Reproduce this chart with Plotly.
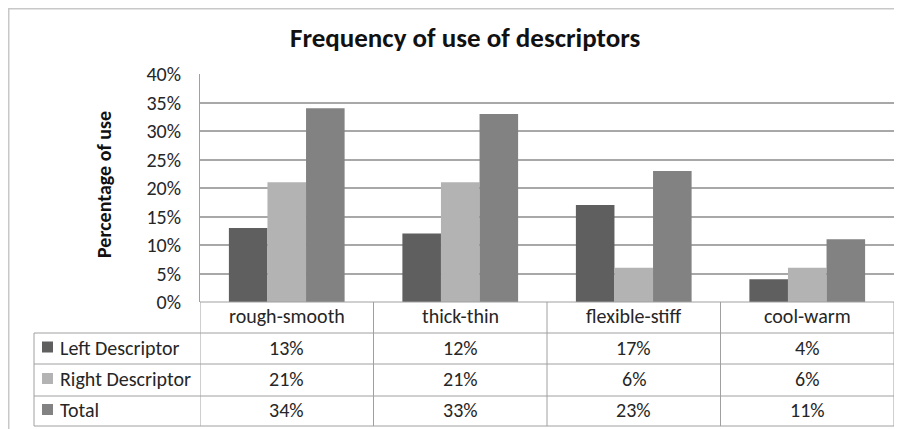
import plotly.graph_objects as go

categories = ["rough-smooth", "thick-thin", "flexible-stiff", "cool-warm"]
series_names = ["Left Descriptor", "Right Descriptor", "Total"]
left_values = [0.13, 0.12, 0.17, 0.04]
right_values = [0.21, 0.21, 0.06, 0.06]
total_values = [0.34, 0.33, 0.23, 0.11]
series_colors = ["#5f5f5f", "#b3b3b3", "#828282"]
y_ticks = [0, 0.05, 0.10, 0.15, 0.20, 0.25, 0.30, 0.35, 0.40]

W, H = 902, 429
OFF = 8  # page body margin offset
FONT = "Carlito, Lato, Liberation Sans, Arial, sans-serif"
TXT = "#262626"


def px(x):
    return (x - OFF) / W


def py(y):
    return 1 - (y - OFF) / H


series_values = [left_values, right_values, total_values]

fig = go.Figure()
for name, vals, col in zip(series_names, series_values, series_colors):
    fig.add_trace(go.Bar(x=categories, y=vals, name=name, marker_color=col,
                         marker_line_width=0, showlegend=False))

fig.update_layout(
    width=W, height=H, autosize=False,
    margin=dict(l=0, r=0, t=0, b=0, autoexpand=False),
    paper_bgcolor="white", plot_bgcolor="white",
    barmode="group", bargap=0.333, bargroupgap=0,
    font=dict(family=FONT, color=TXT),
    xaxis=dict(domain=[px(200), px(894)], type="category", range=[-0.5, 3.5],
               showticklabels=False, showgrid=False, zeroline=False,
               showline=False, ticks="", automargin=False),
    yaxis=dict(domain=[py(302), py(74)], range=[0, 0.40], tickvals=y_ticks,
               tickformat=".0%", showgrid=True, gridcolor="#a8a8a8",
               gridwidth=1.5, zeroline=False, showline=True,
               linecolor="#a0a0a0", linewidth=1, ticks="", automargin=False,
               tickfont=dict(size=20, family=FONT, color=TXT),
               ticklabelstandoff=14),
)

shapes = []
line_col = "#a0a0a0"
# outer chart frame (top and left edges visible)
shapes.append(dict(type="line", xref="paper", yref="paper",
                   x0=px(8), x1=1, y0=py(8.5), y1=py(8.5),
                   line=dict(color="#c8c8c8", width=2)))
shapes.append(dict(type="line", xref="paper", yref="paper",
                   x0=px(8.5), x1=px(8.5), y0=0, y1=py(8),
                   line=dict(color="#c8c8c8", width=2)))
# table horizontal lines
row_lines = [302, 333, 364, 396, 426]
for i, yy in enumerate(row_lines):
    shapes.append(dict(type="line", xref="paper", yref="paper",
                       x0=px(200) if i == 0 else px(34), x1=px(894),
                       y0=py(yy), y1=py(yy), line=dict(color=line_col, width=1)))
# table vertical lines at category boundaries
for k in range(len(categories) + 1):
    shapes.append(dict(type="line", xref="x", yref="paper",
                       x0=k - 0.5, x1=k - 0.5, y0=py(302), y1=py(426),
                       line=dict(color=line_col, width=1)))
shapes.append(dict(type="line", xref="paper", yref="paper",
                   x0=px(34), x1=px(34), y0=py(333), y1=py(426),
                   line=dict(color=line_col, width=1)))

annotations = []
annotations.append(dict(text="<b>Frequency of use of descriptors</b>",
                        xref="paper", yref="paper", x=px(465), y=py(37),
                        xanchor="center", yanchor="middle",
                        showarrow=False, font=dict(size=27, family=FONT, color="#111111")))
annotations.append(dict(text="<b>Percentage of use</b>", textangle=-90,
                        xref="paper", yref="paper", x=px(104), y=py(185),
                        xanchor="center", yanchor="middle",
                        showarrow=False, font=dict(size=20, family=FONT, color="#111111")))
for c in categories:
    annotations.append(dict(text=c, xref="x", yref="paper", x=c, y=py(316),
                            xanchor="center", yanchor="middle",
                            showarrow=False, font=dict(size=20, family=FONT)))
row_centers = [348.5, 380, 411]
for name, vals, col, yc in zip(series_names, series_values, series_colors, row_centers):
    shapes.append(dict(type="rect", xref="paper", yref="paper",
                       x0=px(42), x1=px(53), y0=py(yc + 4), y1=py(yc - 7),
                       fillcolor=col, line=dict(width=0)))
    annotations.append(dict(text=name, xref="paper", yref="paper", x=px(58), y=py(yc - 1),
                            xanchor="left", yanchor="middle", showarrow=False,
                            font=dict(size=20, family=FONT)))
    for c, v in zip(categories, vals):
        annotations.append(dict(text=f"{round(v * 100)}%", xref="x", yref="paper",
                                x=c, y=py(yc - 1), xanchor="center", yanchor="middle",
                                showarrow=False, font=dict(size=20, family=FONT)))

fig.update_layout(shapes=shapes, annotations=annotations)
fig.write_html("out.html")
